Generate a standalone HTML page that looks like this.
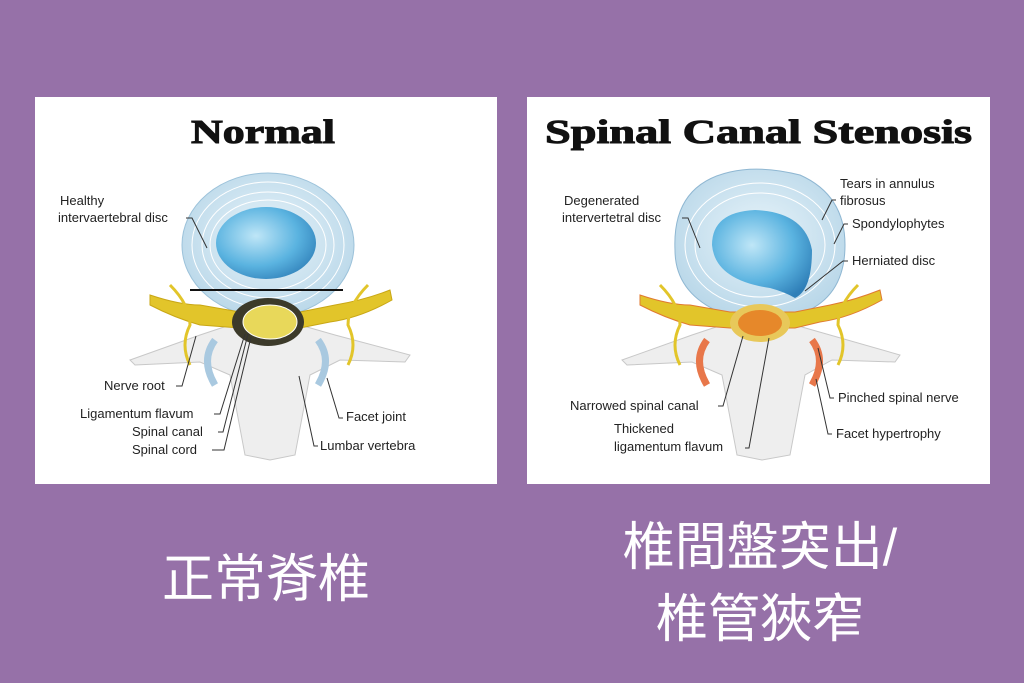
<!DOCTYPE html>
<html><head><meta charset="utf-8"><style>
body{margin:0;width:1024px;height:683px;background:#9671a8;overflow:hidden;position:relative;font-family:"Liberation Sans","Noto Sans CJK TC",sans-serif}
.cn{position:absolute;color:#fff;font-family:"Liberation Sans","Noto Sans CJK TC",sans-serif;font-size:52px;text-align:center;line-height:72px;white-space:nowrap}
</style></head><body>
<svg width="1024" height="683" style="position:absolute;left:0;top:0" font-family="Liberation Sans, sans-serif">
<defs>
<radialGradient id="nuc" cx="40%" cy="40%" r="70%"><stop offset="0" stop-color="#bfe6f7"/><stop offset="0.6" stop-color="#5ab3e0"/><stop offset="1" stop-color="#2f7fb8"/></radialGradient>
<radialGradient id="ann" cx="50%" cy="45%" r="60%"><stop offset="0" stop-color="#e8f4fa"/><stop offset="1" stop-color="#b7d6e8"/></radialGradient>
</defs>
<rect x="35" y="97" width="462" height="387" fill="#fff"/>
<rect x="527" y="97" width="463" height="387" fill="#fff"/>
<text x="191" y="143" font-family="Liberation Serif, serif" font-weight="bold" font-size="34" fill="#111" stroke="#111" stroke-width="1" textLength="144" lengthAdjust="spacingAndGlyphs">Normal</text>
<text x="545" y="143" font-family="Liberation Serif, serif" font-weight="bold" font-size="34" fill="#111" stroke="#111" stroke-width="1" textLength="427" lengthAdjust="spacingAndGlyphs">Spinal Canal Stenosis</text>

<!-- LEFT diagram -->
<g>
<path d="M130 360 L200 335 L230 325 L300 325 L335 335 L410 355 L405 362 L340 360 L310 375 L295 455 L270 460 L245 455 L230 375 L200 362 L135 365 Z" fill="#eeeeee" stroke="#c8c8c8"/>
<path d="M215 340 q-15 20 0 45" stroke="#a9c9e0" stroke-width="7" fill="none"/>
<path d="M318 340 q15 20 0 45" stroke="#a9c9e0" stroke-width="7" fill="none"/>
<ellipse cx="268" cy="245" rx="86" ry="72" fill="url(#ann)" stroke="#9cc2da"/>
<g fill="none" stroke="#fff" stroke-width="1"><ellipse cx="268" cy="245" rx="76" ry="63"/><ellipse cx="268" cy="245" rx="66" ry="53"/><ellipse cx="268" cy="245" rx="58" ry="45"/></g>
<ellipse cx="266" cy="243" rx="50" ry="36" fill="url(#nuc)"/>
<line x1="190" y1="290" x2="343" y2="290" stroke="#111" stroke-width="2"/>
<path d="M150 295 Q180 305 200 305 L240 312 L300 312 L335 305 Q365 300 390 290 L392 300 Q360 318 330 322 L300 328 L240 328 L200 325 Q175 318 150 305 Z" fill="#e2c52a" stroke="#c9a715"/>
<path d="M170 285 q20 20 20 40 q-10 20 0 40" stroke="#e2c52a" stroke-width="3" fill="none"/>
<path d="M368 285 q-20 20 -20 40 q10 20 0 40" stroke="#e2c52a" stroke-width="3" fill="none"/>
<ellipse cx="268" cy="322" rx="36" ry="24" fill="#3c3a2a"/>
<ellipse cx="270" cy="322" rx="27" ry="17" fill="#e8d85a" stroke="#fff"/>
</g>
<g font-size="13" fill="#222">
<text x="60" y="205">Healthy</text><text x="58" y="222">intervaertebral disc</text>
<text x="104" y="390">Nerve root</text>
<text x="80" y="418">Ligamentum flavum</text>
<text x="132" y="436">Spinal canal</text>
<text x="132" y="454">Spinal cord</text>
<text x="346" y="421">Facet joint</text>
<text x="320" y="450">Lumbar vertebra</text>
</g>
<g stroke="#333" fill="none" stroke-width="1">
<path d="M186 218 l6 0 l15 30"/><path d="M176 386 l6 0 l14 -50"/><path d="M214 414 l6 0 l25 -80"/><path d="M218 432 l5 0 l25 -98"/><path d="M212 450 l12 0 l27 -113"/><path d="M343 418 l-4 0 l-12 -40"/><path d="M318 446 l-4 0 l-15 -70"/>
</g>

<!-- RIGHT diagram -->
<g>
<path d="M622 360 L692 335 L722 325 L795 325 L830 335 L900 355 L895 362 L832 360 L805 375 L790 455 L762 460 L737 455 L722 375 L692 362 L627 365 Z" fill="#eeeeee" stroke="#c8c8c8"/>
<path d="M707 340 q-15 20 0 45" stroke="#e8774a" stroke-width="7" fill="none"/>
<path d="M812 340 q15 20 0 45" stroke="#e8774a" stroke-width="7" fill="none"/>
<path d="M675 250 Q672 185 730 172 Q760 165 800 175 Q845 195 845 245 Q845 295 805 312 Q760 322 715 310 Q675 290 675 250 Z" fill="url(#ann)" stroke="#8fb7d2"/>
<g fill="none" stroke="#fff"><ellipse cx="760" cy="245" rx="75" ry="62"/><ellipse cx="760" cy="245" rx="65" ry="52"/></g>
<path d="M712 245 Q712 212 755 210 Q805 212 812 250 Q812 290 795 298 Q785 292 770 288 Q715 280 712 245 Z" fill="url(#nuc)"/>
<path d="M640 295 Q670 305 690 305 L730 312 L795 312 L830 305 Q855 300 880 290 L882 300 Q850 318 820 322 L795 328 L730 328 L690 325 Q665 318 640 305 Z" fill="#e2c52a" stroke="#e07a30"/>
<path d="M660 285 q20 20 20 40 q-10 20 0 40" stroke="#e2c52a" stroke-width="3" fill="none"/>
<path d="M858 285 q-20 20 -20 40 q10 20 0 40" stroke="#e2c52a" stroke-width="3" fill="none"/>
<ellipse cx="760" cy="323" rx="30" ry="19" fill="#e8c85a"/>
<ellipse cx="760" cy="323" rx="22" ry="13" fill="#e6882a"/>
</g>
<g font-size="13" fill="#222">
<text x="564" y="205">Degenerated</text><text x="562" y="222">intervertetral disc</text>
<text x="840" y="188">Tears in annulus</text><text x="840" y="205">fibrosus</text>
<text x="852" y="228">Spondylophytes</text>
<text x="852" y="265">Herniated disc</text>
<text x="838" y="402">Pinched spinal nerve</text>
<text x="836" y="438">Facet  hypertrophy</text>
<text x="570" y="410">Narrowed spinal canal</text>
<text x="614" y="433">Thickened</text>
<text x="614" y="451">ligamentum flavum</text>
</g>
<g stroke="#333" fill="none" stroke-width="1">
<path d="M682 218 l6 0 l12 30"/><path d="M836 200 l-4 0 l-10 20"/><path d="M848 224 l-4 0 l-10 20"/><path d="M848 261 l-5 0 l-38 30"/><path d="M834 398 l-4 0 l-12 -50"/><path d="M832 434 l-4 0 l-12 -55"/><path d="M718 406 l5 0 l20 -70"/><path d="M745 448 l4 0 l20 -110"/>
</g>
</svg>
<div class="cn" style="left:100px;top:544px;width:332px">正常脊椎</div>
<div class="cn" style="left:580px;top:512px;width:360px">椎間盤突出/</div>
<div class="cn" style="left:580px;top:584px;width:360px">椎管狹窄</div>
</body></html>
